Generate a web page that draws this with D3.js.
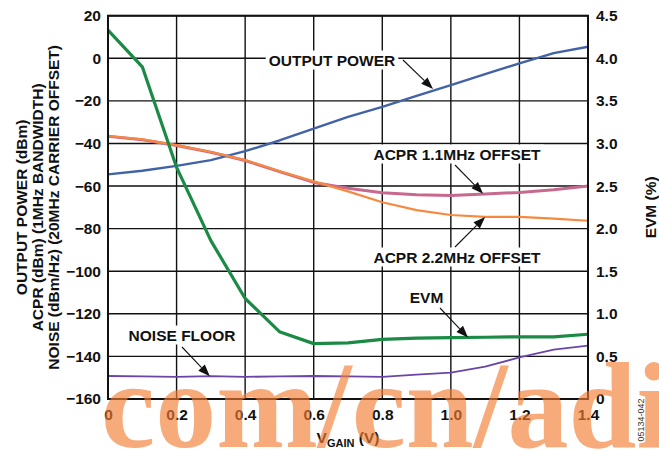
<!DOCTYPE html>
<html>
<head>
<meta charset="utf-8">
<script src="https://cdn.jsdelivr.net/npm/d3@7/dist/d3.min.js"></script>
<style>
  html, body { margin: 0; padding: 0; background: #fff; }
  svg { display: block; }
  text { font-family: "Liberation Sans", Arial, Helvetica, sans-serif; font-weight: bold; fill: #111; }
</style>
</head>
<body>
<svg id="chart" width="659" height="451"></svg>
<script>
// Gain control voltage sweep (V)
const vGain = [0, 0.1, 0.2, 0.3, 0.4, 0.5, 0.6, 0.7, 0.8, 0.9, 1.0, 1.1, 1.2, 1.3, 1.4];

// Left axis series (dBm, dBm/Hz)
const outputPower = [-54.5, -52.8, -50.5, -47.8, -43.6, -38.6, -33.0, -27.5, -22.8, -17.6, -12.6, -7.4, -2.4, 2.4, 5.4];
const acpr11 = [-36.6, -38.3, -41.0, -44.1, -48.0, -53.2, -58.3, -61.0, -63.1, -64.1, -64.4, -63.7, -63.0, -61.7, -60.0];
const acpr22 = [-36.5, -38.1, -40.8, -44.0, -47.8, -53.0, -57.8, -62.5, -67.6, -71.3, -73.6, -74.5, -74.5, -75.3, -76.3];
const noiseFloor = [-149.2, -149.4, -149.6, -149.3, -149.6, -149.4, -149.2, -149.4, -149.6, -148.6, -147.6, -144.8, -140.5, -136.8, -134.9];

// Right axis series (%)
const evm = [4.33, 3.90, 2.72, 1.86, 1.18, 0.79, 0.65, 0.66, 0.70, 0.715, 0.72, 0.725, 0.73, 0.73, 0.76];

// Tick values
const xTicks = [0, 0.2, 0.4, 0.6, 0.8, 1.0, 1.2, 1.4];
const leftTicks = [20, 0, -20, -40, -60, -80, -100, -120, -140, -160];
const rightTicks = [4.5, 4.0, 3.5, 3.0, 2.5, 2.0, 1.5, 1.0, 0.5, 0];

const svg = d3.select("#chart");
const plot = { left: 108, right: 588, top: 15.7, bottom: 399 };

const x = d3.scaleLinear().domain([0, 1.4]).range([plot.left, plot.right]);
const yL = d3.scaleLinear().domain([-160, 20]).range([plot.bottom, plot.top]);
const yR = d3.scaleLinear().domain([0, 4.5]).range([plot.bottom, plot.top]);

const fontSize = 15.5;

// grid
const grid = svg.append("g").attr("stroke", "#111").attr("stroke-width", 1.4);
grid.selectAll("line.v").data(xTicks).join("line")
  .attr("x1", d => x(d)).attr("x2", d => x(d))
  .attr("y1", plot.top).attr("y2", plot.bottom);
grid.selectAll("line.h").data(leftTicks).join("line")
  .attr("x1", plot.left).attr("x2", plot.right)
  .attr("y1", d => yL(d)).attr("y2", d => yL(d));

// series lines
const lineL = vals => d3.line().x((d, i) => x(vGain[i])).y(d => yL(d))(vals);
const lineR = vals => d3.line().x((d, i) => x(vGain[i])).y(d => yR(d))(vals);

const series = [
  { path: lineL(noiseFloor), color: "#6a45a8", w: 1.8 },
  { path: lineL(acpr11), color: "#c8688f", w: 3 },
  { path: lineL(outputPower), color: "#4262a8", w: 2.4 },
  { path: lineL(acpr22), color: "#f7893f", w: 2.2 },
  { path: lineR(evm), color: "#1a8a45", w: 3.2 }
];
svg.append("g").selectAll("path").data(series).join("path")
  .attr("d", d => d.path)
  .attr("fill", "none")
  .attr("stroke", d => d.color)
  .attr("stroke-width", d => d.w)
  .attr("stroke-linejoin", "round");

// frame
svg.append("rect")
  .attr("x", plot.left).attr("y", plot.top)
  .attr("width", plot.right - plot.left).attr("height", plot.bottom - plot.top)
  .attr("fill", "none").attr("stroke", "#111").attr("stroke-width", 2);

// axes (labels only, the frame draws the lines)
const fmtMinus = d => d < 0 ? "\u2212" + Math.abs(d) : String(d);
const axL = svg.append("g").attr("transform", `translate(${plot.left},0)`)
  .call(d3.axisLeft(yL).tickValues(leftTicks).tickSize(0).tickPadding(7).tickFormat(fmtMinus));
const axR = svg.append("g").attr("transform", `translate(${plot.right},0)`)
  .call(d3.axisRight(yR).tickValues(rightTicks).tickSize(0).tickPadding(8)
    .tickFormat(d => d === 0 ? "0" : d3.format(".1f")(d)));
const axB = svg.append("g").attr("transform", `translate(0,${plot.bottom})`)
  .call(d3.axisBottom(x).tickValues(xTicks).tickSize(0).tickPadding(10)
    .tickFormat(d => d === 0 ? "0" : d3.format(".1f")(d)));
[axL, axR, axB].forEach(a => {
  a.select(".domain").remove();
  a.selectAll("text").attr("font-size", fontSize).attr("font-family", null).style("fill", "#111");
});

// axis titles
const xTitle = svg.append("text").attr("x", 348).attr("y", 443)
  .attr("text-anchor", "middle").attr("font-size", fontSize);
xTitle.append("tspan").text("V");
xTitle.append("tspan").attr("font-size", 11).attr("dy", 4).text("GAIN");
xTitle.append("tspan").attr("dy", -4).text(" (V)");

const leftTitle = ["OUTPUT POWER (dBm)", "ACPR (dBm) (1MHz BANDWIDTH)", "NOISE (dBm/Hz) (20MHz CARRIER OFFSET)"];
const yMid = (plot.top + plot.bottom) / 2;
svg.append("g").selectAll("text").data(leftTitle).join("text")
  .attr("transform", (d, i) => `translate(${27 + i * 16},${yMid}) rotate(-90)`)
  .attr("text-anchor", "middle").attr("font-size", fontSize)
  .text(d => d);

svg.append("text")
  .attr("transform", `translate(656,${yMid}) rotate(-90)`)
  .attr("text-anchor", "middle").attr("font-size", fontSize)
  .text("EVM (%)");

// annotations: label box centre and arrow from label to a point on the curve
const annotations = [
  { text: "OUTPUT POWER", cx: 332, cy: 60, tail: [403, 60], head: [x(0.948), yL(-14.4)] },
  { text: "ACPR 1.1MHz OFFSET", cx: 457, cy: 154, tail: [455, 165], head: [x(1.094), yL(-63.6)] },
  { text: "ACPR 2.2MHz OFFSET", cx: 457, cy: 257, tail: [455, 247], head: [x(1.10), yL(-74.5)] },
  { text: "EVM", cx: 426.5, cy: 297, tail: [440, 308], head: [x(1.05), yR(0.722)] },
  { text: "NOISE FLOOR", cx: 182, cy: 335, tail: [182, 347], head: [x(0.297), yL(-149.3)] }
];

const ann = svg.append("g");
annotations.forEach(a => {
  const t = ann.append("text").attr("x", a.cx).attr("y", a.cy)
    .attr("text-anchor", "middle").attr("dominant-baseline", "central")
    .attr("font-size", fontSize).text(a.text);
  const bb = t.node().getBBox();
  ann.insert("rect", "text")
    .attr("x", bb.x - 3).attr("y", bb.y - 1)
    .attr("width", bb.width + 6).attr("height", bb.height + 2)
    .attr("fill", "#fff");
  // arrow shaft and filled head
  const [x0, y0] = a.tail, [x1, y1] = a.head;
  const ang = Math.atan2(y1 - y0, x1 - x0);
  const hl = 12, hw = 4.5;
  const bx = x1 - hl * Math.cos(ang), by = y1 - hl * Math.sin(ang);
  ann.append("line").attr("x1", x0).attr("y1", y0).attr("x2", bx).attr("y2", by)
    .attr("stroke", "#111").attr("stroke-width", 1.1);
  const px = -Math.sin(ang) * hw, py = Math.cos(ang) * hw;
  ann.append("path")
    .attr("d", `M${x1},${y1}L${bx + px},${by + py}L${bx - px},${by - py}Z`)
    .attr("fill", "#111");
});

// figure number
svg.append("text")
  .attr("transform", "translate(644,420) rotate(-90)")
  .attr("text-anchor", "middle").attr("font-size", 9)
  .style("font-weight", "normal")
  .style("fill", "#333").text("05134-042");

// site stamp
svg.append("text")
  .attr("x", 101).attr("y", 447)
  .style("font-family", "'Liberation Serif', 'Times New Roman', serif")
  .style("font-weight", "bold").attr("font-size", 122)
  .style("fill", "#f47b30").attr("opacity", 0.64)
  .text("com/cn/adi");
</script>
</body>
</html>
